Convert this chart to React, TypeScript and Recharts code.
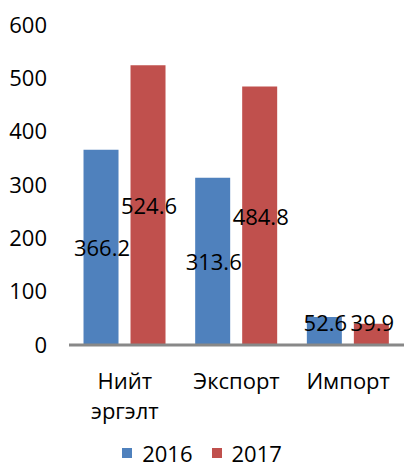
import React from 'react';
import { BarChart, Bar, XAxis, YAxis, Legend, LabelList } from 'recharts';

const categories = ['Нийт эргэлт', 'Экспорт', 'Импорт'];
const values2016 = [366.2, 313.6, 52.6];
const values2017 = [524.6, 484.8, 39.9];
const yTicks = [0, 100, 200, 300, 400, 500, 600];
const seriesNames = ['2016', '2017'];
const colors = ['#4F81BD', '#C0504D'];

const data = categories.map((c, i) => ({ name: c, v2016: values2016[i], v2017: values2017[i] }));

const FONT = '"Open Sans", "DejaVu Sans", sans-serif';
const FS = 22;

const XTick = (props: any) => {
  const { x, y, payload } = props;
  const text: string = payload.value;
  const lines = text.length > 8 ? text.split(' ') : [text];
  return (
    <text x={x} y={y} textAnchor="middle" fill="#000" fontSize={FS} fontFamily={FONT}>
      {lines.map((l, i) => (
        <tspan key={i} x={x} dy={i === 0 ? 42 : 30}>{l}</tspan>
      ))}
    </text>
  );
};

const ValueLabel = (props: any) => {
  const { x, y, width, height, value } = props;
  const cy = Math.min(y + height / 2, y + height - 23);
  return (
    <text x={x + width / 2 + 1} y={cy} textAnchor="middle" dominantBaseline="central" fill="#000" fontSize={FS} fontFamily={FONT}>
      {value}
    </text>
  );
};

const LegendContent = () => (
  <div style={{ display: 'flex', justifyContent: 'center', alignItems: 'center', fontFamily: FONT, fontSize: FS, lineHeight: '24px', color: '#000', height: 24, paddingTop: 5 }}>
    {seriesNames.map((n, i) => (
      <div key={n} style={{ display: 'flex', alignItems: 'center', marginRight: i === 0 ? 19 : 0 }}>
        <span style={{ display: 'inline-block', width: 10, height: 10, background: colors[i], marginRight: 10 }} />
        <span>{n}</span>
      </div>
    ))}
  </div>
);

export default function App() {
  return (
    <div style={{ position: 'absolute', left: 0, top: 0, width: 404, height: 470, background: '#fff' }}>
      <BarChart width={404} height={470} data={data} margin={{ top: 25, right: 0, left: 0, bottom: 0 }} barCategoryGap="13%" barGap={12}>
        <XAxis dataKey="name" axisLine={{ stroke: '#888', strokeWidth: 3 }} tickLine={false} tickSize={0} tick={<XTick />} height={91} interval={0} />
        <YAxis domain={[0, 600]} ticks={yTicks} axisLine={false} tickLine={false} tickSize={0} tickMargin={22} width={69} tick={{ fill: '#000', fontSize: FS, fontFamily: FONT }} interval={0} />
        <Legend verticalAlign="bottom" height={34} content={<LegendContent />} />
        <Bar dataKey="v2016" name="2016" fill={colors[0]} isAnimationActive={false}>
          <LabelList dataKey="v2016" content={<ValueLabel />} />
        </Bar>
        <Bar dataKey="v2017" name="2017" fill={colors[1]} isAnimationActive={false}>
          <LabelList dataKey="v2017" content={<ValueLabel />} />
        </Bar>
      </BarChart>
    </div>
  );
}
